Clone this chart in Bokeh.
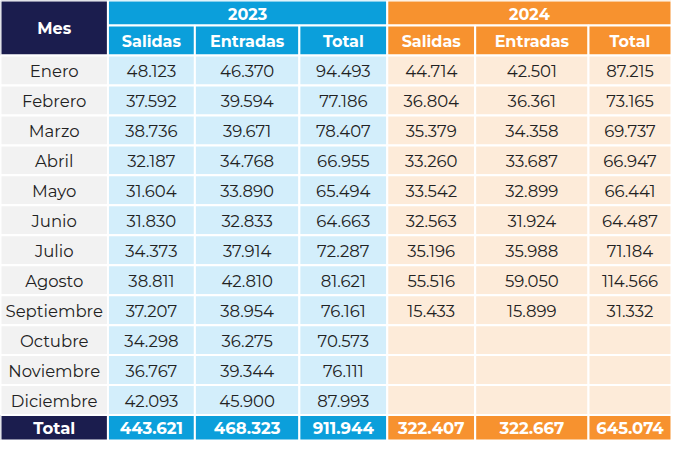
from bokeh.plotting import figure
from bokeh.models import Range1d, ColumnDataSource
from bokeh.core.properties import value
from bokeh.embed import file_html
from bokeh.resources import INLINE

# ---- data ----
months = ["Enero", "Febrero", "Marzo", "Abril", "Mayo", "Junio", "Julio",
          "Agosto", "Septiembre", "Octubre", "Noviembre", "Diciembre"]
years = ["2023", "2024"]
sub_headers = ["Salidas", "Entradas", "Total"]
salidas_2023 = [48123, 37592, 38736, 32187, 31604, 31830, 34373, 38811, 37207, 34298, 36767, 42093]
entradas_2023 = [46370, 39594, 39671, 34768, 33890, 32833, 37914, 42810, 38954, 36275, 39344, 45900]
total_2023 = [94493, 77186, 78407, 66955, 65494, 64663, 72287, 81621, 76161, 70573, 76111, 87993]
salidas_2024 = [44714, 36804, 35379, 33260, 33542, 32563, 35196, 55516, 15433, None, None, None]
entradas_2024 = [42501, 36361, 34358, 33687, 32899, 31924, 35988, 59050, 15899, None, None, None]
total_2024 = [87215, 73165, 69737, 66947, 66441, 64487, 71184, 114566, 31332, None, None, None]
totals_row = [443621, 468323, 911944, 322407, 322667, 645074]
mes_label = "Mes"
total_label = "Total"

# ---- layout / style ----
W, H = 687, 456
col_edges = [0, 110, 199, 306, 396, 486, 602, 687]
head1 = (0, 26)
head2 = (26, 57)
row_top = 57
row_h = 31.05
tot_row = (429.6, 456)

NAVY = "#1b1d4e"
BLUE = "#0b9fdb"
LBLUE = "#d3eefb"
ORANGE = "#f7922f"
LORANGE = "#fdebd9"
GRAY = "#f2f2f2"
FONT = "Montserrat, Inter"

def fmt(v):
    return "" if v is None else f"{v:,}".replace(",", ".")

cells = dict(left=[], right=[], top=[], bottom=[], fill=[])
texts = dict(x=[], y=[], t=[], c=[], s=[])
btexts = dict(x=[], y=[], t=[], c=[], s=[])

def cell(l, r, t, b, fill, label="", color="#222222", bold=False, size="16.5px"):
    cells["left"].append(l); cells["right"].append(r)
    cells["top"].append(t); cells["bottom"].append(b)
    cells["fill"].append(fill)
    if label:
        d = btexts if bold else texts
        d["x"].append((l + r) / 2); d["y"].append((t + b) / 2 + 0.5)
        d["t"].append(label); d["c"].append(color); d["s"].append(size)

# header
cell(col_edges[0], col_edges[1], head1[0], head2[1], NAVY, mes_label, "white", True, "16px")
for yi, yr in enumerate(years):
    l = col_edges[1 + 3 * yi]; r = col_edges[4 + 3 * yi]
    cell(l, r, head1[0], head1[1], BLUE if yi == 0 else ORANGE, yr, "white", True, "16px")
    for si, sh in enumerate(sub_headers):
        cell(col_edges[1 + 3 * yi + si], col_edges[2 + 3 * yi + si], head2[0], head2[1],
             BLUE if yi == 0 else ORANGE, sh, "white", True, "16px")

series = [salidas_2023, entradas_2023, total_2023, salidas_2024, entradas_2024, total_2024]
for i, m in enumerate(months):
    t = row_top + i * row_h
    b = t + row_h
    cell(col_edges[0], col_edges[1], t, b, GRAY, m, "#222222")
    for ci, s in enumerate(series):
        cell(col_edges[1 + ci], col_edges[2 + ci], t, b, LBLUE if ci < 3 else LORANGE, fmt(s[i]), "#222222")

cell(col_edges[0], col_edges[1], tot_row[0], tot_row[1], NAVY, total_label, "white", True)
for ci, v in enumerate(totals_row):
    cell(col_edges[1 + ci], col_edges[2 + ci], tot_row[0], tot_row[1],
         BLUE if ci < 3 else ORANGE, fmt(v), "white", True)

p = figure(width=671, height=440, x_range=Range1d(0, W), y_range=Range1d(H, 0),
           output_backend="svg", toolbar_location=None, min_border=0)
p.axis.visible = False
p.grid.visible = False
p.outline_line_color = None
p.background_fill_color = "white"

p.quad(left="left", right="right", top="top", bottom="bottom", fill_color="fill",
       line_color="white", line_width=2, source=ColumnDataSource(cells))
p.text(x="x", y="y", text="t", text_color="c", text_font_size="s",
       text_font=value(FONT), text_align="center", text_baseline="middle",
       source=ColumnDataSource(texts))
p.text(x="x", y="y", text="t", text_color="c", text_font_size="s",
       text_font=value(FONT), text_font_style="bold", text_align="center",
       text_baseline="middle", source=ColumnDataSource(btexts))

open("out.html", "w").write(file_html(p, INLINE))
